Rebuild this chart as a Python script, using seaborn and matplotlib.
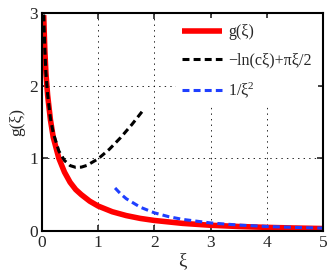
import matplotlib
matplotlib.use("Agg")
import matplotlib.pyplot as plt
import seaborn as sns
import numpy as np

# ---- data ----
xi_g = [0.03, 0.05, 0.07, 0.1, 0.15, 0.2, 0.3, 0.4, 0.5, 0.6, 0.7, 0.85, 1.0, 1.25, 1.5,
        1.75, 2.0, 2.5, 3.0, 3.5, 4.0, 4.5, 5.0]
g_vals = [2.97, 2.49, 2.17, 1.87, 1.53, 1.29, 1.00, 0.81, 0.67, 0.57, 0.50, 0.41, 0.343,
          0.265, 0.212, 0.173, 0.145, 0.105, 0.079, 0.062, 0.050, 0.041, 0.034]

xi_small = [0.03, 0.05, 0.07, 0.1, 0.15, 0.2, 0.3, 0.4, 0.5, 0.6, 0.7, 0.8, 1.0, 1.2,
            1.4, 1.6, 1.8]
small_vals = [2.98, 2.50, 2.17, 1.88, 1.55, 1.35, 1.10, 0.97, 0.90, 0.876, 0.879, 0.903,
              0.994, 1.126, 1.286, 1.466, 1.662]

xi_large = [1.3, 1.4, 1.5, 1.75, 2.0, 2.25, 2.5, 3.0, 3.5, 4.0, 4.5, 5.0]
large_vals = [0.592, 0.510, 0.444, 0.327, 0.250, 0.198, 0.160, 0.111, 0.0816, 0.0625,
              0.0494, 0.040]

labels = ["g(ξ)", "\u2212ln(cξ)+πξ/2", "1/ξ$^2$"]
x_ticks = [0, 1, 2, 3, 4, 5]
y_ticks = [0, 1, 2, 3]

sns.set_style("white")
plt.rcParams["font.family"] = ["Liberation Serif", "DejaVu Serif"]
plt.rcParams["mathtext.fontset"] = "custom"
plt.rcParams["mathtext.rm"] = "Liberation Serif"
plt.rcParams["mathtext.it"] = "Liberation Serif"
plt.rcParams["lines.scale_dashes"] = False

fig = plt.figure(figsize=(3.32, 2.78), dpi=100)
ax = fig.add_axes([42 / 332, 1 - 231 / 278, (323 - 42) / 332, (231 - 13) / 278])

sns.lineplot(x=xi_g, y=g_vals, ax=ax, color="#ff0000", lw=4.0, label=labels[0],
             solid_capstyle="butt")
sns.lineplot(x=xi_small, y=small_vals, ax=ax, color="black", lw=2.2, label=labels[1])
sns.lineplot(x=xi_large, y=large_vals, ax=ax, color="#1f3fff", lw=2.2, label=labels[2])
ax.lines[1].set_dashes((5.0, 3.0))
ax.lines[2].set_dashes((5.0, 3.0))

ax.set_xlim(0, 5)
ax.set_ylim(0, 3)
ax.set_xticks(x_ticks)
ax.set_yticks(y_ticks)
ax.grid(True, color="black", linestyle=(0, (1, 3)), lw=0.6)
ax.tick_params(direction="in", length=4, width=1.2, labelsize=12.5,
               bottom=True, left=True, top=True, right=True, pad=3)
for s in ax.spines.values():
    s.set_linewidth(1.5)
    s.set_color("black")
ax.set_xlabel("ξ", fontsize=13.5, labelpad=1)
ax.set_ylabel("g(ξ)", fontsize=12.5, labelpad=3)

leg = ax.legend(loc="upper right", frameon=True, fontsize=11.5, handlelength=2.5,
                handletextpad=0.4, labelspacing=0.75, borderaxespad=0.3,
                borderpad=0.4, fancybox=False)
leg.get_frame().set_edgecolor("white")
leg.get_frame().set_linewidth(0)
leg.get_frame().set_alpha(1)

fig.savefig("out.png", dpi=100)
